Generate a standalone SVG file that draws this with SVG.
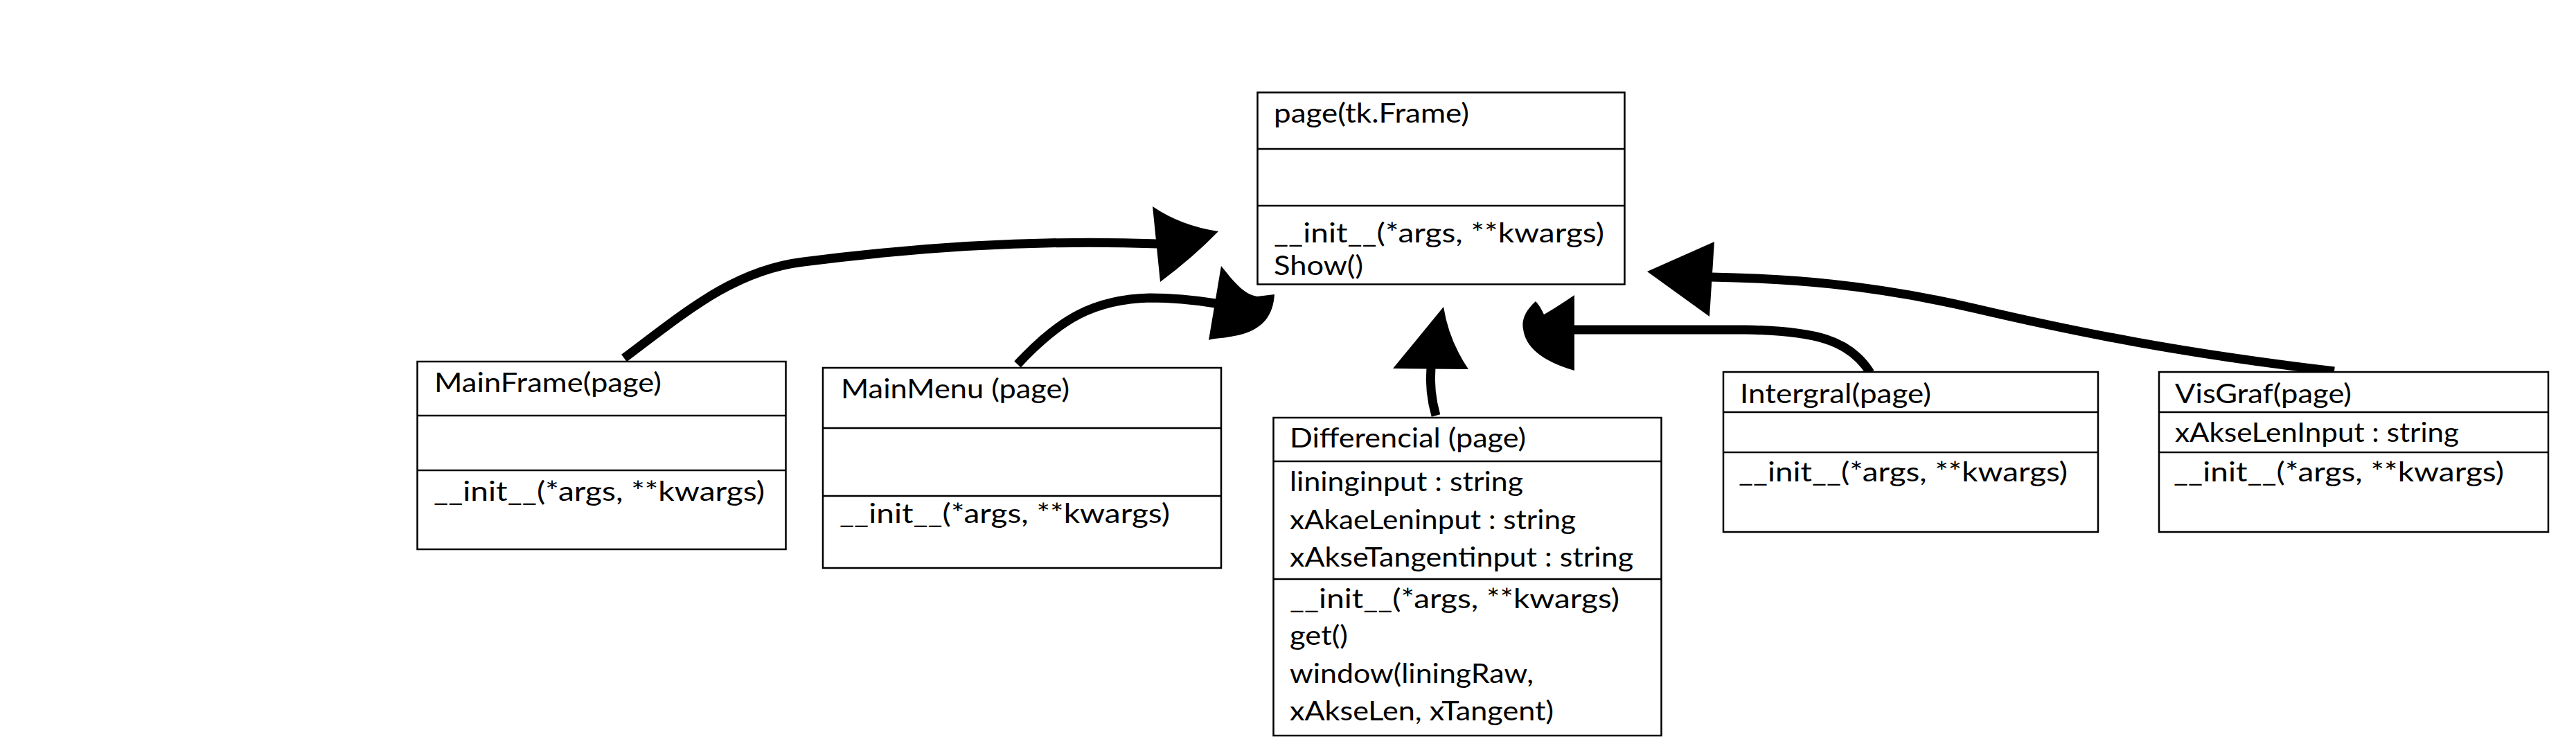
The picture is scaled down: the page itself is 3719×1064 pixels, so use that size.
<svg xmlns="http://www.w3.org/2000/svg" width="3719" height="1064" viewBox="0 0 3719 1064">
<style>
.box{fill:#fff;stroke:#000;stroke-width:2.5}
.div{stroke:#000;stroke-width:2.5}
text{font-family:Lato,"Open Sans","Liberation Sans",sans-serif;font-size:38px;fill:#000}
.ln{fill:none;stroke:#000;stroke-width:13}
.hd{fill:#000;stroke:none}
</style>
<rect width="3719" height="1064" fill="#fff"/>
<g id="connectors">
<path class="ln" d="M901,517 C990,450 1060,390 1160,378 C1300,360 1480,345 1672,352"/>
<path class="hd" d="M1664,298 Q1705,326 1759,334 Q1722,372 1675,407 Z"/>
<path class="ln" d="M1469,526 C1530,460 1580,432 1660,430 C1700,430 1730,434 1755,438"/>
<path class="hd" d="M1763,384 C1780,405 1795,425 1815,428 L1840,425 C1838,455 1824,473 1795,482 C1770,489 1752,488 1745,491 Z"/>
<path class="ln" d="M2073,600 Q2063,565 2066,530"/>
<path class="hd" d="M2011,532 L2084,443 Q2092,492 2120,533 Z"/>
<path class="ln" d="M2700,538 C2670,490 2620,478 2520,476 L2268,476"/>
<path class="hd" d="M2273,426 Q2245,445 2229,454 Q2223,441 2217,435 Q2195,455 2199,475 Q2204,515 2273,535 Z"/>
<path class="ln" d="M3370,536 C3150,510 3000,480 2850,445 C2700,410 2580,402 2470,400"/>
<path class="hd" d="M2475,349 L2378,392 L2468,457 Z"/>
</g>
<g id="page">
<rect class="box" x="1815.5" y="133.5" width="530" height="277"/>
<line class="div" x1="1815.5" y1="215" x2="2345.5" y2="215"/>
<line class="div" x1="1815.5" y1="297" x2="2345.5" y2="297"/>
<text x="1839" y="177" textLength="282" lengthAdjust="spacingAndGlyphs">page(tk.Frame)</text>
<text x="1839" y="350" textLength="477" lengthAdjust="spacingAndGlyphs">__init__(*args, **kwargs)</text>
<text x="1839" y="397" textLength="129" lengthAdjust="spacingAndGlyphs">Show()</text>
</g>
<g id="mainframe">
<rect class="box" x="602.5" y="522" width="532" height="271"/>
<line class="div" x1="602.5" y1="600" x2="1134.5" y2="600"/>
<line class="div" x1="602.5" y1="679" x2="1134.5" y2="679"/>
<text x="627" y="566" textLength="328" lengthAdjust="spacingAndGlyphs">MainFrame(page)</text>
<text x="626" y="723" textLength="478" lengthAdjust="spacingAndGlyphs">__init__(*args, **kwargs)</text>
</g>
<g id="mainmenu">
<rect class="box" x="1188" y="531" width="575" height="289"/>
<line class="div" x1="1188" y1="618" x2="1763" y2="618"/>
<line class="div" x1="1188" y1="716" x2="1763" y2="716"/>
<text x="1214" y="575" textLength="330" lengthAdjust="spacingAndGlyphs">MainMenu (page)</text>
<text x="1212" y="755" textLength="477" lengthAdjust="spacingAndGlyphs">__init__(*args, **kwargs)</text>
</g>
<g id="differencial">
<rect class="box" x="1838.5" y="603" width="560" height="459"/>
<line class="div" x1="1838.5" y1="666" x2="2398.5" y2="666"/>
<line class="div" x1="1838.5" y1="836" x2="2398.5" y2="836"/>
<text x="1862" y="646" textLength="341" lengthAdjust="spacingAndGlyphs">Differencial (page)</text>
<text x="1862" y="709" textLength="337" lengthAdjust="spacingAndGlyphs">lininginput : string</text>
<text x="1862" y="764" textLength="413" lengthAdjust="spacingAndGlyphs">xAkaeLeninput : string</text>
<text x="1862" y="818" textLength="496" lengthAdjust="spacingAndGlyphs">xAkseTangentinput : string</text>
<text x="1862" y="878" textLength="476" lengthAdjust="spacingAndGlyphs">__init__(*args, **kwargs)</text>
<text x="1862" y="931" textLength="84" lengthAdjust="spacingAndGlyphs">get()</text>
<text x="1862" y="986" textLength="352" lengthAdjust="spacingAndGlyphs">window(liningRaw,</text>
<text x="1862" y="1040" textLength="381" lengthAdjust="spacingAndGlyphs">xAkseLen, xTangent)</text>
</g>
<g id="intergral">
<rect class="box" x="2488" y="537" width="541" height="231"/>
<line class="div" x1="2488" y1="595" x2="3029" y2="595"/>
<line class="div" x1="2488" y1="653" x2="3029" y2="653"/>
<text x="2512" y="582" textLength="276" lengthAdjust="spacingAndGlyphs">Intergral(page)</text>
<text x="2510" y="695" textLength="475" lengthAdjust="spacingAndGlyphs">__init__(*args, **kwargs)</text>
</g>
<g id="visgraf">
<rect class="box" x="3117" y="537" width="562" height="231"/>
<line class="div" x1="3117" y1="595" x2="3679" y2="595"/>
<line class="div" x1="3117" y1="653" x2="3679" y2="653"/>
<text x="3140" y="582" textLength="255" lengthAdjust="spacingAndGlyphs">VisGraf(page)</text>
<text x="3140" y="638" textLength="410" lengthAdjust="spacingAndGlyphs">xAkseLenInput : string</text>
<text x="3138" y="695" textLength="477" lengthAdjust="spacingAndGlyphs">__init__(*args, **kwargs)</text>
</g>
</svg>
